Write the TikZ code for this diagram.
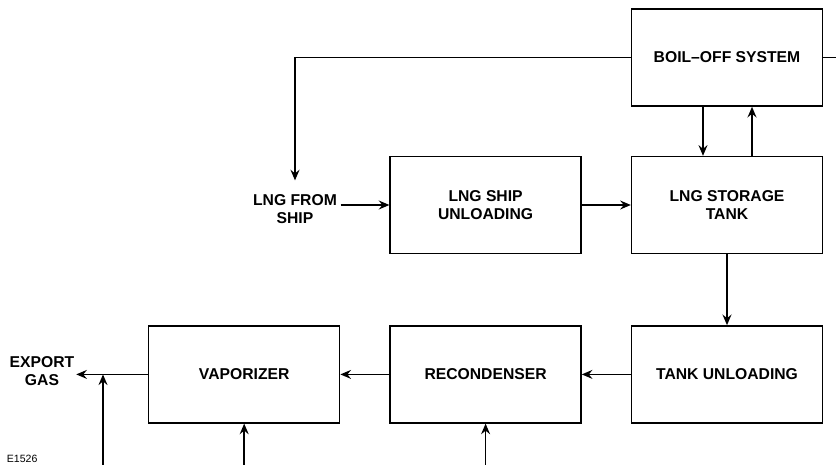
\documentclass[tikz,border=0pt]{standalone}
\usepackage{fontspec}
\setmainfont{Liberation Sans}
\usepackage{tikz}
\usetikzlibrary{arrows.meta, positioning, calc}
\tikzset{
  % Process boxes
  block/.style={rectangle, minimum width=5.73cm, minimum height=2.91cm, inner sep=0pt, text centered, draw=black, line width=1.2pt, align=center, font=\bfseries\fontsize{13.4}{15.4}\selectfont},
  label/.style={align=center, inner sep=1.5pt, font=\bfseries\fontsize{13.4}{15.4}\selectfont},
  arrow/.style={-{Stealth[length=3.2mm, width=2.7mm, inset=1.1mm]}, line width=1.2pt},
  flow/.style={line width=1.2pt},
}
\begin{document}
\begin{tikzpicture}[node distance=1.47cm and 1.47cm]
    \useasboundingbox (0,0) rectangle (25.08,-13.95);

    % Top row
    \node[block] (storage) at (21.81,-6.15) {LNG STORAGE\\TANK};
    \node[block, left=of storage] (shipunload) {LNG SHIP\\UNLOADING};
    \node[block, above=of storage] (boiloff) {BOIL--OFF SYSTEM};

    % Bottom row
    \node[block, below=2.13cm of storage] (tankunload) {TANK UNLOADING};
    \node[block, left=of tankunload] (recond) {RECONDENSER};
    \node[block, left=of recond] (vapor) {VAPORIZER};

    % Free labels
    \node[label] (fromship) at (8.85,-6.26) {LNG FROM\\SHIP};
    \node[label] (export) at (1.26,-11.13) {EXPORT\\GAS};
    \node[anchor=base west, inner sep=0pt, font=\fontsize{9}{10}\selectfont] (fig) at (0.2,-13.88) {E1526};

    % Loose ends
    \coordinate (boilout) at (25.3,0);
    \coordinate (gasin) at (3.09,-14.2);
    \coordinate (vapin) at ($(vapor.south)+(0,-1.8)$);
    \coordinate (recin) at ($(recond.south)+(0,-1.8)$);

    % Arrows
    \draw[arrow] (boiloff.west) -| ([yshift=0.35cm]fromship.north);
    \draw[flow] (boiloff.east) -- (boilout |- boiloff.east);
    \draw[arrow] ([xshift=-0.72cm]boiloff.south) -- ([xshift=-0.72cm]storage.north);
    \draw[arrow] ([xshift=0.75cm]storage.north) -- ([xshift=0.75cm]boiloff.south);
    \draw[arrow] (fromship.east |- shipunload.west) ++(0.05,0) -- (shipunload.west);
    \draw[arrow] (shipunload) -- (storage);
    \draw[arrow] (storage) -- (tankunload);
    \draw[arrow] (tankunload) -- (recond);
    \draw[arrow] (recond) -- (vapor);
    \draw[arrow] (vapor.west) -- (export.east |- vapor.west);
    \draw[arrow] (gasin) -- (gasin |- vapor.west);
    \draw[arrow] (vapin) -- (vapor.south);
    \draw[arrow] (recin) -- (recond.south);
\end{tikzpicture}
\end{document}
